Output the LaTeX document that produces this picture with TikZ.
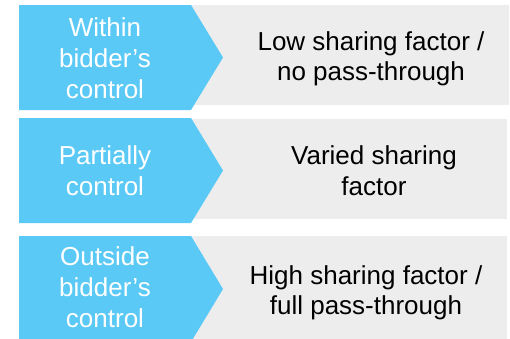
\documentclass[tikz,border=0pt]{standalone}
\usepackage{fontspec}
\setmainfont{Liberation Sans}
\definecolor{tabblue}{HTML}{5BC9F5}
\definecolor{rowgray}{HTML}{EDEDED}
\begin{document}
\begin{tikzpicture}[x=1pt,y=-1pt,
  graybox/.style={fill=rowgray,draw=none},
  bluetab/.style={fill=tabblue,draw=none},
  tablabel/.style={text=white,align=center,inner sep=0pt,
    font=\fontsize{26}{31}\selectfont},
  rowlabel/.style={text=black,align=center,inner sep=0pt,
    font=\fontsize{26}{30.5}\selectfont}]
\useasboundingbox (0,0) rectangle (510,338);
\clip (0,0) rectangle (510,338);

% grey result bands
\fill[graybox] (191,5)   rectangle (509,105);
\fill[graybox] (191,119) rectangle (507,219);
\fill[graybox] (191,236) rectangle (507,345);

% blue pointer tabs
\fill[bluetab] (19,5)   -- (191,5)   -- (223,57.5) -- (191,110) -- (19,110) -- cycle;
\fill[bluetab] (19,118) -- (191,118) -- (223,170.5) -- (191,223) -- (19,223) -- cycle;
\fill[bluetab] (19,236) -- (191,236) -- (223,289) -- (191,342) -- (19,342) -- cycle;

% tab captions
\node[tablabel] (within)  at (105,58)    {Within\\bidder’s\\control};
\node[tablabel] (partial) at (105,171)   {Partially\\control};
\node[tablabel] (outside) at (105,287.5) {Outside\\bidder’s\\control};

% band texts
\node[rowlabel] (low)    at (371,59)  {Low sharing factor /\\no pass-through};
\node[rowlabel] (varied) at (374,170.5) {Varied sharing\\factor};
\node[rowlabel] (high)   at (366,293) {High sharing factor /\\full pass-through};
\end{tikzpicture}
\end{document}
